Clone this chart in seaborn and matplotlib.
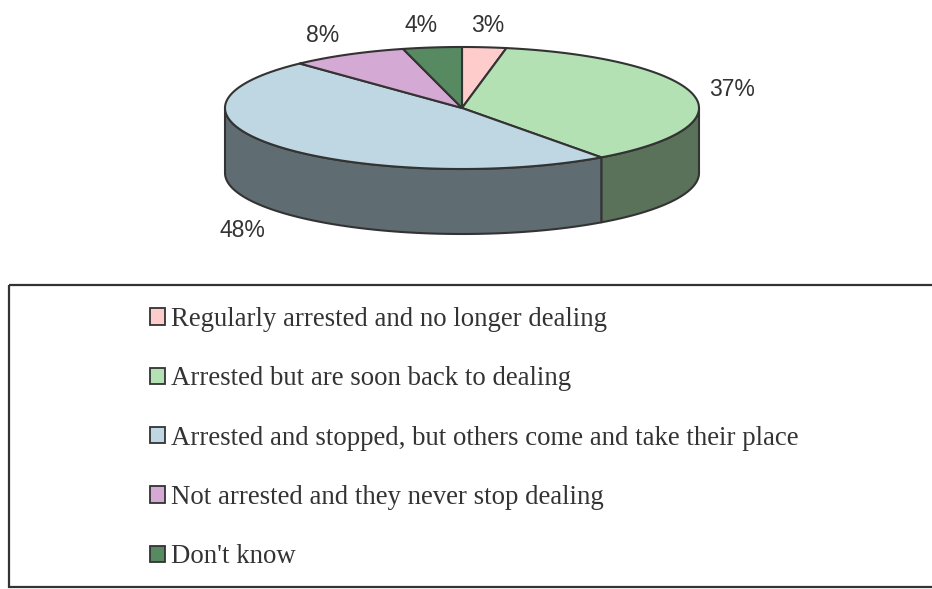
import numpy as np
import matplotlib
matplotlib.use("Agg")
import matplotlib.pyplot as plt
from matplotlib.patches import Polygon, Rectangle, Patch
import seaborn as sns

# Survey answers and their shares (percent), in clockwise order from 12 o'clock
categories = [
    "Regularly arrested and no longer dealing",
    "Arrested but are soon back to dealing",
    "Arrested and stopped, but others come and take their place",
    "Not arrested and they never stop dealing",
    "Don't know",
]
shares = [3, 37, 48, 8, 4]
pct_labels = ["3%", "37%", "48%", "8%", "4%"]
top_colors = ["#FFCCCC", "#B3E1B3", "#BED7E3", "#D4A9D4", "#578A61"]

sns.set_theme(style="white")
palette = sns.color_palette(top_colors)
side_palette = [tuple(c * 0.5 for c in col) for col in palette]

W, H, DPI = 932, 589, 100
fig = plt.figure(figsize=(W / DPI, H / DPI), dpi=DPI)
ax = fig.add_axes([0, 0, 1, 1])
ax.set_xlim(0, W)
ax.set_ylim(H, 0)
ax.axis("off")

# pseudo-3D pie geometry (pixel units)
cx, cy = 462, 108
rx, ry = 237, 61
depth = 65
edge = "#333333"
lw = 1.5


def pt(t, dz=0.0):
    return cx + rx * np.cos(t), cy - ry * np.sin(t) + dz


total = float(sum(shares))
bounds = 90 - 360 * np.concatenate([[0], np.cumsum(shares)]) / total  # degrees, clockwise

# side walls: only the front half (angles between -180 and 0) is visible
for i in range(len(shares)):
    a0, a1 = bounds[i], bounds[i + 1]  # a0 > a1
    for shift in (0, -360, 360):
        lo, hi = max(a1 + shift, -180), min(a0 + shift, 0)
        if hi > lo:
            ts = np.radians(np.linspace(hi, lo, 80))
            top = [pt(t) for t in ts]
            bot = [pt(t, depth) for t in ts[::-1]]
            ax.add_patch(Polygon(top + bot, closed=True, facecolor=side_palette[i],
                                 edgecolor=edge, lw=lw, joinstyle="round", zorder=2))

# top faces
for i in range(len(shares)):
    a0, a1 = bounds[i], bounds[i + 1]
    n = max(4, int(abs(a0 - a1) * 2))
    ts = np.radians(np.linspace(a0, a1, n))
    verts = [(cx, cy)] + [pt(t) for t in ts]
    ax.add_patch(Polygon(verts, closed=True, facecolor=palette[i],
                         edgecolor=edge, lw=lw, joinstyle="round", zorder=3))

# percentage labels placed outside the rim at each slice's mid-angle
for i, lab in enumerate(pct_labels):
    mid = np.radians((bounds[i] + bounds[i + 1]) / 2)
    c, s = np.cos(mid), np.sin(mid)
    x = cx + (rx + 40) * c - (6 if c < -0.1 else 0)
    y = cy - (ry + 22) * s
    if s < 0:
        y += depth + 5
    ax.text(x, y, lab, ha="center", va="center", fontsize=16.5,
            family="Liberation Sans", color="#333333", zorder=4)

# legend frame (open on the right)
ax.add_patch(Rectangle((9, 285), 1000, 302, facecolor="none", edgecolor="#333333",
                       lw=1.6, zorder=1, clip_on=False))

handles = [Patch(facecolor=palette[i], edgecolor="#333333", lw=1.3) for i in range(len(categories))]
leg = ax.legend(handles, categories, loc="upper left",
                bbox_to_anchor=(150 / W, 1 - 307 / H), bbox_transform=fig.transFigure,
                frameon=False, borderpad=0, borderaxespad=0,
                handlelength=0.55, handleheight=0.55, handletextpad=0.25,
                labelspacing=1.28,
                prop={"family": "Liberation Serif", "size": 19.3})
for t in leg.get_texts():
    t.set_color("#333333")

fig.savefig("out.png", dpi=DPI, facecolor="white")
